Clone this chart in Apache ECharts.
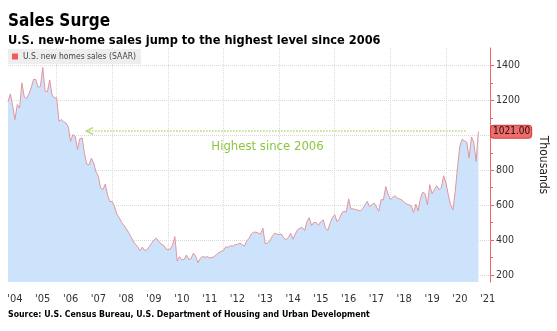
<!DOCTYPE html>
<html><head><meta charset="utf-8">
<script src="https://cdn.jsdelivr.net/npm/echarts@6/dist/echarts.min.js"></script>
<style>html,body{margin:0;padding:0;background:#fff}#c{width:557px;height:331px}</style>
</head><body><div id="c"></div>
<script>
// ---- data (thousands, SAAR), monthly from Apr 2004 to Mar 2021 ----
const firstYear = 2004, firstMonth = 4;
const sales2004 = [1192, 1237, 1170, 1090, 1176, 1157, 1300, 1220, 1210];
const sales2005 = [1237, 1272, 1320, 1320, 1275, 1280, 1389, 1253, 1250, 1317, 1233, 1214];
const sales2006 = [1215, 1080, 1090, 1078, 1070, 1050, 965, 1004, 994, 920, 980, 985];
const sales2007 = [895, 835, 830, 870, 840, 790, 765, 698, 689, 721, 655, 621];
const sales2008 = [620, 590, 548, 528, 502, 485, 466, 445, 420, 395, 376, 360];
const sales2009 = [339, 360, 340, 345, 363, 382, 400, 411, 395, 378, 372, 353];
const sales2010 = [344, 348, 372, 420, 280, 305, 288, 288, 315, 290, 293, 325];
const sales2011 = [307, 270, 296, 307, 301, 305, 298, 300, 306, 318, 328, 336];
const sales2012 = [340, 362, 358, 368, 365, 373, 375, 382, 375, 365, 395, 410];
const sales2013 = [435, 445, 445, 440, 434, 468, 378, 385, 395, 420, 439, 434];
const sales2014 = [432, 434, 412, 402, 415, 440, 405, 435, 460, 468, 472, 455];
const sales2015 = [505, 529, 483, 502, 500, 485, 505, 517, 470, 455, 497, 529];
const sales2016 = [545, 506, 522, 555, 565, 560, 636, 578, 579, 575, 572, 565];
const sales2017 = [580, 600, 622, 593, 602, 612, 590, 565, 632, 630, 707, 665];
const sales2018 = [632, 645, 654, 640, 636, 630, 615, 608, 602, 597, 558, 605];
const sales2019 = [568, 640, 675, 665, 602, 717, 665, 690, 711, 690, 700, 769];
const sales2020 = [727, 660, 602, 573, 680, 820, 940, 977, 968, 960, 870, 990];
const sales2021 = [960, 851, 1021];
const extraEmptyMonths = 5; // axis runs on to Aug 2021

const yTickValues = [200, 400, 600, 800, 1000, 1200, 1400];
const yMinorTickValues = [300, 500, 700, 900, 1100, 1300];
const lastValue = 1021;

const seriesName = 'U.S. new homes sales (SAAR)';
const titleText = 'Sales Surge';
const subtitleText = 'U.S. new-home sales jump to the highest level since 2006';
const sourceText = 'Source: U.S. Census Bureau, U.S. Department of Housing and Urban Development';
const axisName = 'Thousands';
const noteText = 'Highest since 2006';
const noteLineFrom = '2007-03', noteLineTo = '2020-10', noteLineValue = 1025;
const noteTextAt = '2013-08', noteTextValue = 935;

// ---- build ----
const values = [].concat(sales2004, sales2005, sales2006, sales2007, sales2008, sales2009,
  sales2010, sales2011, sales2012, sales2013, sales2014, sales2015, sales2016, sales2017,
  sales2018, sales2019, sales2020, sales2021);
const months = [];
for (let i = 0; i < values.length + extraEmptyMonths; i++) {
  const m0 = firstMonth - 1 + i;
  const y = firstYear + Math.floor(m0 / 12);
  const m = (m0 % 12) + 1;
  months.push(y + '-' + (m < 10 ? '0' + m : '' + m));
}
const seriesData = months.map((_, i) => (i < values.length ? values[i] : null));

const FONT = "'DejaVu Sans Condensed', 'DejaVu Sans', sans-serif";
const AXIS_RED = '#e8696a';

const chart = echarts.init(document.getElementById('c'), null, { renderer: 'canvas' });
chart.setOption({
  animation: false,
  backgroundColor: '#ffffff',
  title: [
    { text: titleText, subtext: subtitleText, left: 3, top: 8, itemGap: 4,
      textStyle: { fontFamily: FONT, fontSize: 17, fontWeight: 'bold', color: '#000' },
      subtextStyle: { fontFamily: FONT, fontSize: 12.7, fontWeight: 'bold', color: '#000' } },
    { text: sourceText, left: 3, top: 305,
      textStyle: { fontFamily: FONT, fontSize: 8.7, fontWeight: 'bold', color: '#000' } }
  ],
  legend: {
    data: [seriesName], left: 8, top: 49, icon: 'rect', itemWidth: 6, itemHeight: 6,
    backgroundColor: '#eeeeee', padding: [3, 5, 3, 4], itemGap: 2,
    textStyle: { fontFamily: FONT, fontSize: 8.5, color: '#444' }
  },
  grid: { left: 8, right: 64, top: 48, bottom: 49 },
  xAxis: {
    type: 'category', data: months, boundaryGap: false,
    axisLine: { show: false }, axisTick: { show: false },
    axisLabel: {
      interval: (i, v) => v.endsWith('-07'),
      formatter: v => "'" + v.slice(2, 4),
      color: '#333', fontSize: 11, margin: 12, fontFamily: FONT
    },
    splitLine: {
      show: true,
      interval: (i, v) => v.endsWith('-01') && (+v.slice(0, 4)) % 2 === 0,
      lineStyle: { color: '#d9d9d9', type: 'dotted', width: 1 }
    }
  },
  yAxis: [
    {
      type: 'value', position: 'right', min: 160, max: 1500,
      axisLine: { show: true, lineStyle: { color: AXIS_RED, width: 1 } },
      axisTick: { show: true, customValues: yTickValues, length: 4, lineStyle: { color: AXIS_RED } },
      axisLabel: { customValues: yTickValues, formatter: v => String(v), color: '#333', fontSize: 10.5, margin: 6, fontFamily: FONT },
      splitLine: { show: true, lineStyle: { color: '#d9d9d9', type: 'dotted', width: 1 } },
      name: axisName, nameLocation: 'middle', nameRotate: -90, nameGap: 47,
      nameTextStyle: { fontFamily: FONT, fontSize: 12, color: '#222' },
      axisPointer: {
        show: true, value: lastValue, status: 'show', triggerTooltip: false, snap: false,
        lineStyle: { opacity: 0 },
        label: { show: true, formatter: p => Number(p.value).toFixed(2), backgroundColor: '#f26a6a',
          borderColor: '#c94343', borderWidth: 1,
          color: '#111', fontSize: 10, fontFamily: FONT, padding: [1, 1, 1, 2], margin: 1 }
      }
    },
    {
      type: 'value', position: 'right', min: 160, max: 1500,
      axisLine: { show: false },
      axisTick: { show: true, customValues: yMinorTickValues, length: 3, lineStyle: { color: AXIS_RED } },
      axisLabel: { show: false }, splitLine: { show: false }
    }
  ],
  series: [{
    name: seriesName, type: 'line', data: seriesData, yAxisIndex: 0,
    showSymbol: false, symbol: 'none', connectNulls: false,
    lineStyle: { color: '#e4959c', width: 1 },
    itemStyle: { color: '#f05a5a' },
    areaStyle: { color: '#cce3fb', opacity: 1 },
    markLine: {
      silent: true,
      symbol: ['path://M5,0 L10,9 L8.6,10 L5,3.2 L1.4,10 L0,9 Z', 'none'],
      symbolSize: [8, 9],
      lineStyle: { color: '#b5da72', type: 'dotted', width: 1.5 },
      label: { show: false },
      data: [[{ coord: [noteLineFrom, noteLineValue] }, { coord: [noteLineTo, noteLineValue] }]]
    },
    markPoint: {
      silent: true, symbol: 'circle', symbolSize: 0,
      label: { show: true, position: 'inside', formatter: noteText, color: '#8cc63f',
        fontSize: 13, fontFamily: FONT },
      data: [{ coord: [noteTextAt, noteTextValue] }]
    }
  }]
});
</script>
</body></html>
